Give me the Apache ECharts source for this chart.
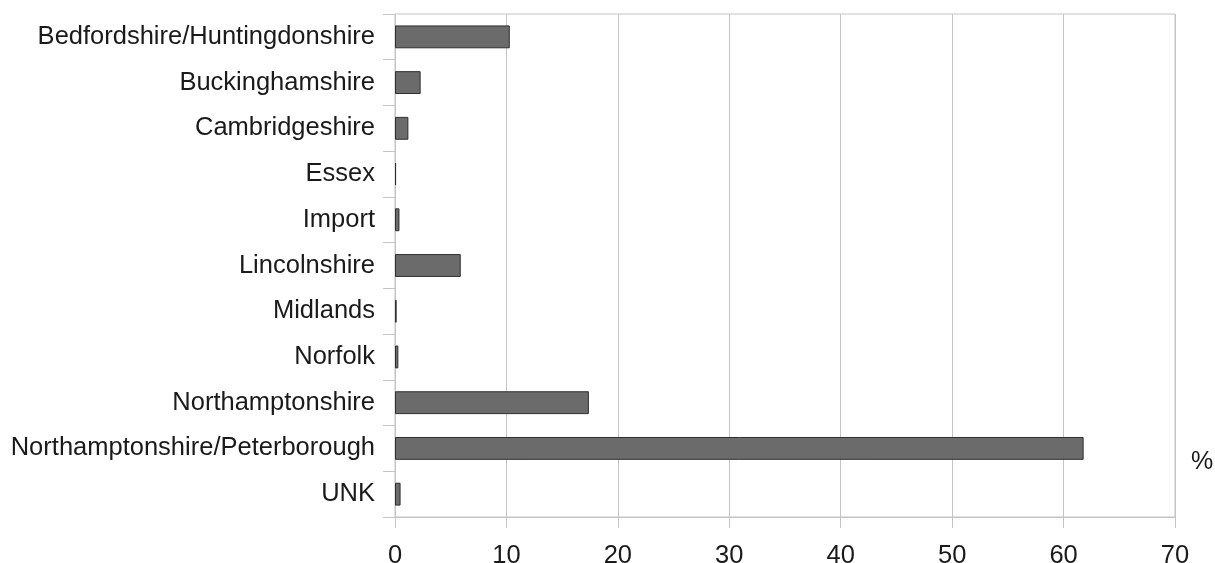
<!DOCTYPE html>
<html>
<head>
<meta charset="utf-8">
<style>
  html, body { margin: 0; padding: 0; background: #ffffff; }
  #chart { width: 1215px; height: 563px; }
</style>
<script src="https://cdn.jsdelivr.net/npm/echarts@6/dist/echarts.min.js"></script>
</head>
<body>
<div id="chart"></div>
<script>
// Share of records by source region (%)
const regions = [
  'Bedfordshire/Huntingdonshire',
  'Buckinghamshire',
  'Cambridgeshire',
  'Essex',
  'Import',
  'Lincolnshire',
  'Midlands',
  'Norfolk',
  'Northamptonshire',
  'Northamptonshire/Peterborough',
  'UNK'
];
const shares = [10.3, 2.3, 1.2, 0.1, 0.4, 5.9, 0.15, 0.3, 17.4, 61.8, 0.5];
const axisMin = 0;
const axisMax = 70;
const axisStep = 10;
const unitLabel = '%';

const FONT = '"Liberation Sans", Arial, sans-serif';
const GRID_GREY = '#c4c4c4';
const TEXT = '#1a1a1a';

const chart = echarts.init(document.getElementById('chart'), null, { renderer: 'canvas' });
chart.setOption({
  animation: false,
  backgroundColor: '#ffffff',
  grid: {
    left: 395, right: 40, top: 14, bottom: 46,
    containLabel: false,
    outerBoundsMode: 'none',
    show: true, borderColor: GRID_GREY, borderWidth: 1,
    backgroundColor: 'transparent'
  },
  xAxis: {
    type: 'value',
    min: axisMin, max: axisMax, interval: axisStep,
    axisLine: { show: true, lineStyle: { color: GRID_GREY, width: 1 } },
    axisTick: { show: true, length: 11, lineStyle: { color: GRID_GREY } },
    splitLine: { show: true, lineStyle: { color: GRID_GREY, width: 1 } },
    axisLabel: { color: TEXT, fontFamily: FONT, fontSize: 25.5, margin: 26 }
  },
  yAxis: {
    type: 'category',
    data: regions,
    inverse: true,
    axisLine: { show: true, lineStyle: { color: GRID_GREY, width: 1 } },
    axisTick: { show: true, length: 12, alignWithLabel: false, lineStyle: { color: GRID_GREY } },
    splitLine: { show: false },
    axisLabel: { color: TEXT, fontFamily: FONT, fontSize: 25.5, margin: 20 }
  },
  graphic: [{
    type: 'text',
    left: 1191, top: 450,
    style: { text: unitLabel, fill: TEXT, font: '25px ' + FONT }
  }],
  series: [{
    type: 'bar',
    data: shares,
    barWidth: '50%',
    itemStyle: { color: '#6b6b6b', borderColor: '#2e2e2e', borderWidth: 1 }
  }]
});
</script>
</body>
</html>
